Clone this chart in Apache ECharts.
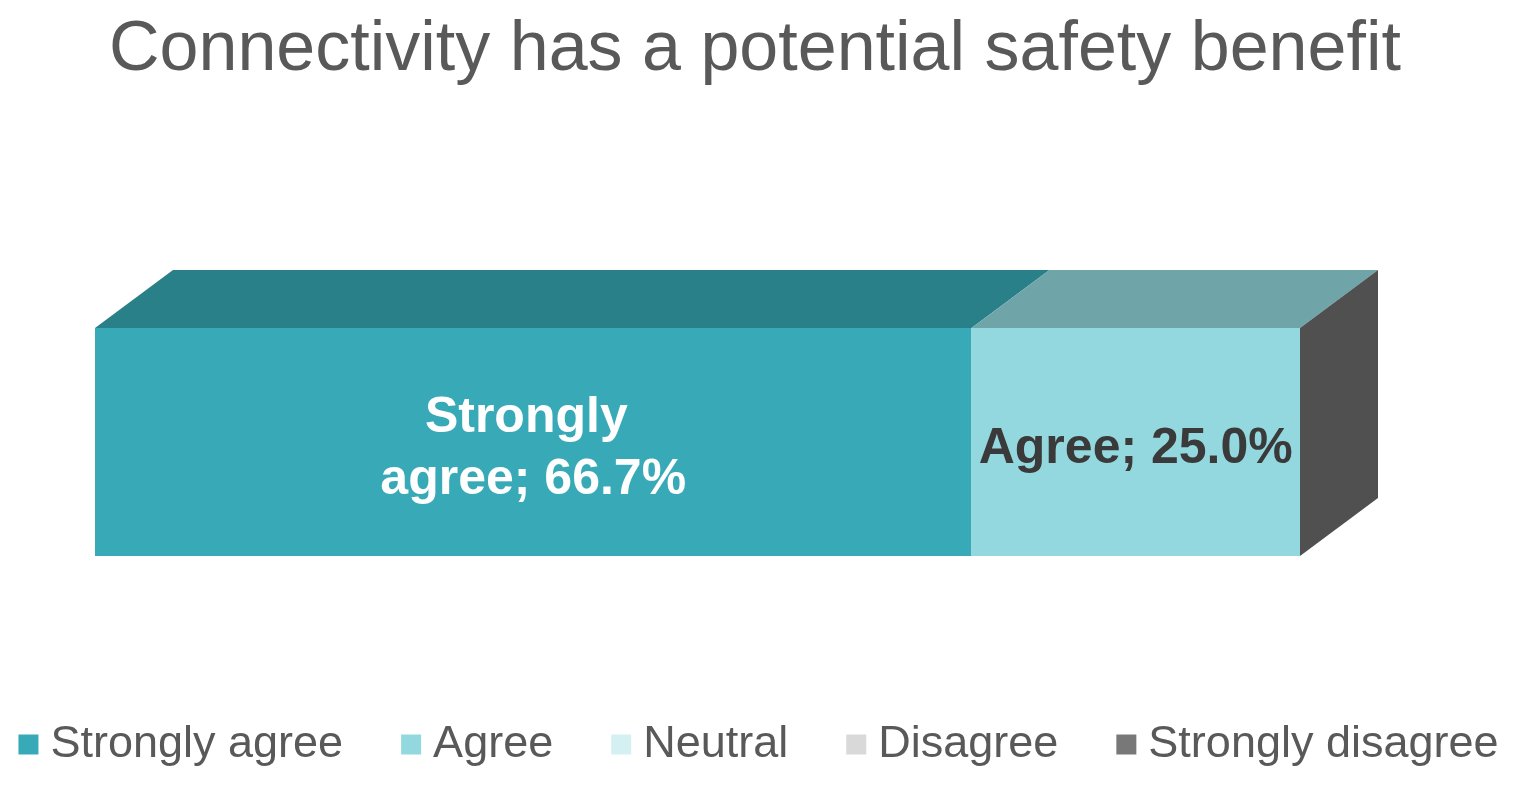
<!DOCTYPE html>
<html>
<head>
<meta charset="utf-8">
<script src="https://cdn.jsdelivr.net/npm/echarts@6/dist/echarts.min.js"></script>
<style>
html,body{margin:0;padding:0;background:#fff;}
#chart{width:1517px;height:786px;}
</style>
</head>
<body>
<div id="chart"></div>
<script>
// ---- data ----
const categories = [''];
const seriesNames = ['Strongly agree', 'Agree', 'Neutral', 'Disagree', 'Strongly disagree'];
const seriesValues = [66.7, 25.0, 0, 0, 8.3];
const axisMax = 91.7;

// ---- styles ----
const frontColors = ['#38aab7', '#93d8df', '#d5f0f3', '#d9d9d9', '#787878'];
const topColors = ['#2a8088', '#6fa5a8', '#a6c3c6', '#ababab', '#5a5a5a'];
const sideColors = ['#1f6066', '#5c9094', '#8fb0b3', '#999999', '#505050'];
const labelColors = ['#ffffff', '#3a3a3a', '#3a3a3a', '#3a3a3a', '#ffffff'];
const DX = 78, DY = -58;

let lastNonZero = 0;
seriesValues.forEach((v, i) => { if (v > 0) lastNonZero = i; });

let cum = 0;
const series = seriesNames.map((name, i) => {
  const start = cum;
  cum += seriesValues[i];
  return {
    name: name,
    type: 'custom',
    itemStyle: { color: frontColors[i] },
    encode: { x: 0, y: 1 },
    data: [[start, 0, seriesValues[i]]],
    z: 2 + i,
    renderItem: function (params, api) {
      const s = api.value(0);
      const v = api.value(2);
      const e = Math.min(s + v, axisMax);
      const sc = Math.min(s, axisMax);
      const p0 = api.coord([sc, 0]);
      const p1 = api.coord([e, 0]);
      const h = api.size([0, 1])[1];
      const yTop = p0[1] - h / 2, yBot = p0[1] + h / 2;
      const xs = p0[0], xe = p1[0];
      const children = [];
      if (v > 0 && xe > xs) {
        children.push({ type: 'rect', shape: { x: xs, y: yTop, width: xe - xs, height: h },
          style: { fill: frontColors[i] } });
        children.push({ type: 'polygon', shape: { points: [[xs, yTop], [xs + DX, yTop + DY], [xe + DX, yTop + DY], [xe, yTop]] },
          style: { fill: topColors[i] } });
        children.push({ type: 'text', style: {
          text: name + '; ' + v.toFixed(1) + '%',
          x: (xs + xe) / 2, y: (yTop + yBot) / 2 + 7,
          align: 'center', verticalAlign: 'middle',
          fontFamily: 'Liberation Sans, Arial, sans-serif', fontWeight: 'bold', fontSize: 50,
          lineHeight: 62, width: 330, overflow: 'break',
          fill: labelColors[i] } });
      }
      if (i === lastNonZero) {
        children.push({ type: 'polygon', shape: { points: [[xe, yTop], [xe + DX, yTop + DY], [xe + DX, yBot + DY], [xe, yBot]] },
          style: { fill: sideColors[i] } });
      }
      return { type: 'group', children: children };
    }
  };
});

const chart = echarts.init(document.getElementById('chart'), null, { renderer: 'canvas' });
chart.setOption({
  animation: false,
  backgroundColor: '#ffffff',
  title: {
    text: 'Connectivity has a potential safety benefit',
    left: 104,
    top: 11,
    textStyle: { fontFamily: 'Liberation Sans, Arial, sans-serif', fontSize: 70, fontWeight: 'normal', color: '#595959' }
  },
  legend: {
    data: seriesNames,
    bottom: 14,
    left: 'center',
    icon: 'rect',
    itemWidth: 20,
    itemHeight: 20,
    itemGap: 58,
    textStyle: { fontFamily: 'Liberation Sans, Arial, sans-serif', fontSize: 45, color: '#595959', padding: [0, 0, 0, 7] }
  },
  grid: { left: 95, top: 328, width: 1205, height: 228 },
  xAxis: { type: 'value', min: 0, max: axisMax, show: false },
  yAxis: { type: 'category', data: categories, show: false },
  series: series
});
</script>
</body>
</html>
